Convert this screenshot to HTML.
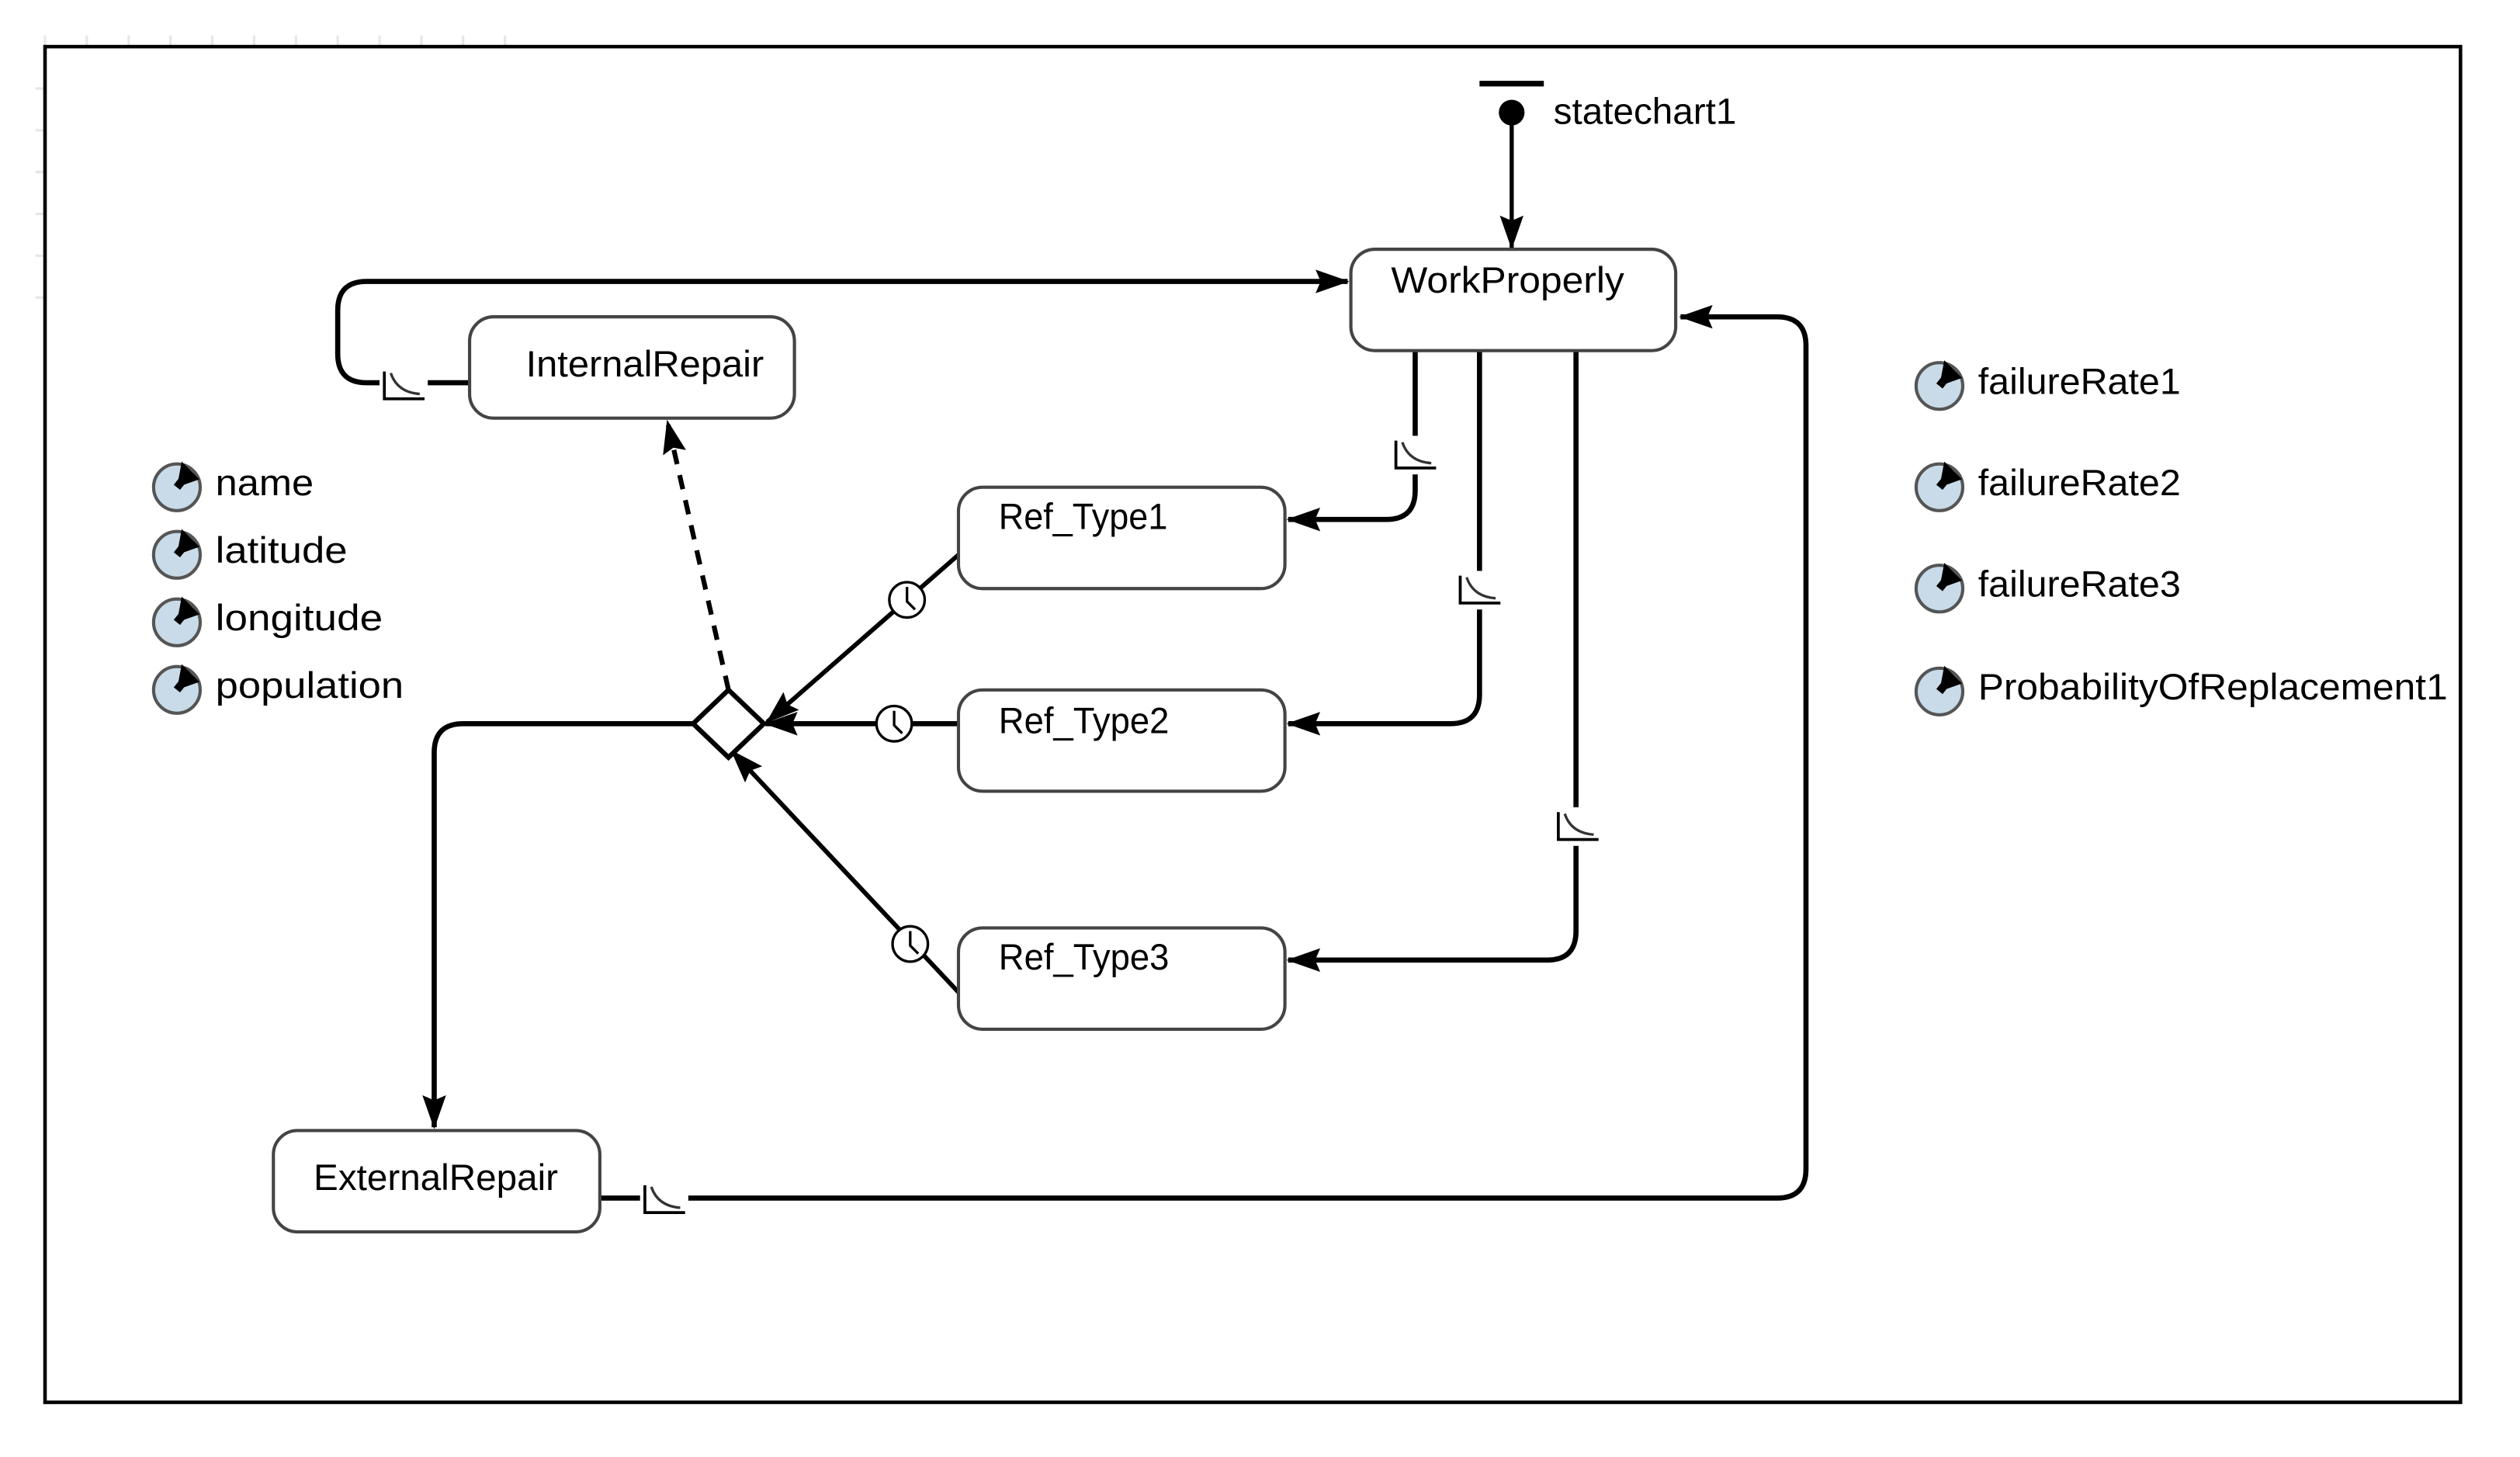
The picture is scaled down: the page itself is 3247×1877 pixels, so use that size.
<!DOCTYPE html>
<html><head><meta charset="utf-8">
<style>
html,body{margin:0;padding:0;background:#fff;}
svg{display:block;}
text{font-family:"Liberation Sans",sans-serif;font-size:23px;fill:#000;}
</style></head>
<body>
<svg width="3247" height="1877" viewBox="0 0 1567 906" preserveAspectRatio="none" xmlns="http://www.w3.org/2000/svg">
<defs>
<marker id="ar" viewBox="0 0 20 14" refX="19" refY="7" markerWidth="21" markerHeight="15" markerUnits="userSpaceOnUse" orient="auto">
<path d="M0,0 L20,7 L0,14 L3,7 Z" fill="#000"/>
</marker>
<g id="rate">
<rect x="-3" y="-3" width="30" height="24" fill="#fff"/>
<path d="M0,0 V17 H25" fill="none" stroke="#000" stroke-width="1.8"/>
<path d="M4,1 Q8,13 22,14" fill="none" stroke="#333" stroke-width="1.6"/>
</g>
<g id="clock">
<circle r="11" fill="#fff" stroke="#000" stroke-width="1.6"/>
<path d="M0,-8 V1 L5,6" fill="none" stroke="#000" stroke-width="1.6"/>
</g>
<g id="var">
<circle r="14.5" fill="#c9dbe8" stroke="#555" stroke-width="2"/>
<path d="M0,0 L3,-16 L14,-5 Z" fill="#000"/>
<path d="M0,0 L8,-10" stroke="#000" stroke-width="5"/>
</g>
</defs>
<g stroke="#e6e6e6" stroke-width="1.5">
<path d="M28,22 V28 M54,22 V28 M80,22 V28 M106,22 V28 M132,22 V28 M158,22 V28 M184,22 V28 M210,22 V28 M236,22 V28 M262,22 V28 M288,22 V28 M314,22 V28"/>
<path d="M22,55 H28 M22,81 H28 M22,107 H28 M22,133 H28 M22,159 H28 M22,185 H28"/>
</g>
<rect x="28" y="29" width="1502" height="843" fill="none" stroke="#000" stroke-width="2.2"/>

<g fill="none" stroke="#000" stroke-width="3.2">
<path d="M920,52 H960" stroke-width="3.5"/>
<path d="M940,70 V154" stroke-width="2.6" marker-end="url(#ar)"/>
<path d="M292,238 H228 Q210,238 210,220 V193 Q210,175 228,175 H838" marker-end="url(#ar)"/>
<path d="M880,218 V305 Q880,323 862,323 H801" marker-end="url(#ar)"/>
<path d="M920,218 V432 Q920,450 902,450 H801" marker-end="url(#ar)"/>
<path d="M980,218 V579 Q980,597 962,597 H801" marker-end="url(#ar)"/>
<path d="M373,745 H1105 Q1123,745 1123,727 V215 Q1123,197 1105,197 H1045" marker-end="url(#ar)"/>
<path d="M596,345 L477,449" stroke-width="2.8" marker-end="url(#ar)"/>
<path d="M596,450 H476" marker-end="url(#ar)"/>
<path d="M596,617 L455,467" stroke-width="2.8" marker-end="url(#ar)"/>
<path d="M432,450 H288 Q270,450 270,468 V701" marker-end="url(#ar)"/>
<path d="M453,429 L415,262" stroke-width="3" stroke-dasharray="9,7" marker-end="url(#ar)"/>
</g>
<circle cx="940" cy="70" r="8" fill="#000"/>
<text x="966" y="77">statechart1</text>

<path d="M453,429 L475,450 L453,471 L431,450 Z" fill="#fff" stroke="#000" stroke-width="3"/>

<g fill="#fff" stroke="#444" stroke-width="2">
<rect x="840" y="155" width="202" height="63" rx="15"/>
<rect x="292" y="197" width="202" height="63" rx="15"/>
<rect x="596" y="303" width="203" height="63" rx="15"/>
<rect x="596" y="429" width="203" height="63" rx="15"/>
<rect x="596" y="577" width="203" height="63" rx="15"/>
<rect x="170" y="703" width="203" height="63" rx="15"/>
</g>
<text x="865" y="182" textLength="145" lengthAdjust="spacingAndGlyphs">WorkProperly</text>
<text x="327" y="234" textLength="148" lengthAdjust="spacingAndGlyphs">InternalRepair</text>
<text x="621" y="329" textLength="105" lengthAdjust="spacingAndGlyphs">Ref_Type1</text>
<text x="621" y="456" textLength="106" lengthAdjust="spacingAndGlyphs">Ref_Type2</text>
<text x="621" y="603" textLength="106" lengthAdjust="spacingAndGlyphs">Ref_Type3</text>
<text x="195" y="740" textLength="152" lengthAdjust="spacingAndGlyphs">ExternalRepair</text>

<use href="#rate" x="239" y="231"/>
<use href="#rate" x="868" y="274"/>
<use href="#rate" x="908" y="358"/>
<use href="#rate" x="969" y="505"/>
<use href="#rate" x="401" y="737"/>
<use href="#clock" x="564" y="373"/>
<use href="#clock" x="556" y="450"/>
<use href="#clock" x="566" y="587"/>

<use href="#var" x="110" y="303"/>
<use href="#var" x="110" y="345"/>
<use href="#var" x="110" y="387"/>
<use href="#var" x="110" y="429"/>
<text x="134" y="308" textLength="61" lengthAdjust="spacingAndGlyphs">name</text>
<text x="134" y="350" textLength="82" lengthAdjust="spacingAndGlyphs">latitude</text>
<text x="134" y="392" textLength="104" lengthAdjust="spacingAndGlyphs">longitude</text>
<text x="134" y="434" textLength="117" lengthAdjust="spacingAndGlyphs">population</text>
<use href="#var" x="1206" y="240"/>
<use href="#var" x="1206" y="303"/>
<use href="#var" x="1206" y="366"/>
<use href="#var" x="1206" y="430"/>
<text x="1230" y="245" textLength="126" lengthAdjust="spacingAndGlyphs">failureRate1</text>
<text x="1230" y="308" textLength="126" lengthAdjust="spacingAndGlyphs">failureRate2</text>
<text x="1230" y="371" textLength="126" lengthAdjust="spacingAndGlyphs">failureRate3</text>
<text x="1230" y="435" textLength="292" lengthAdjust="spacingAndGlyphs">ProbabilityOfReplacement1</text>
</svg>
</body></html>
